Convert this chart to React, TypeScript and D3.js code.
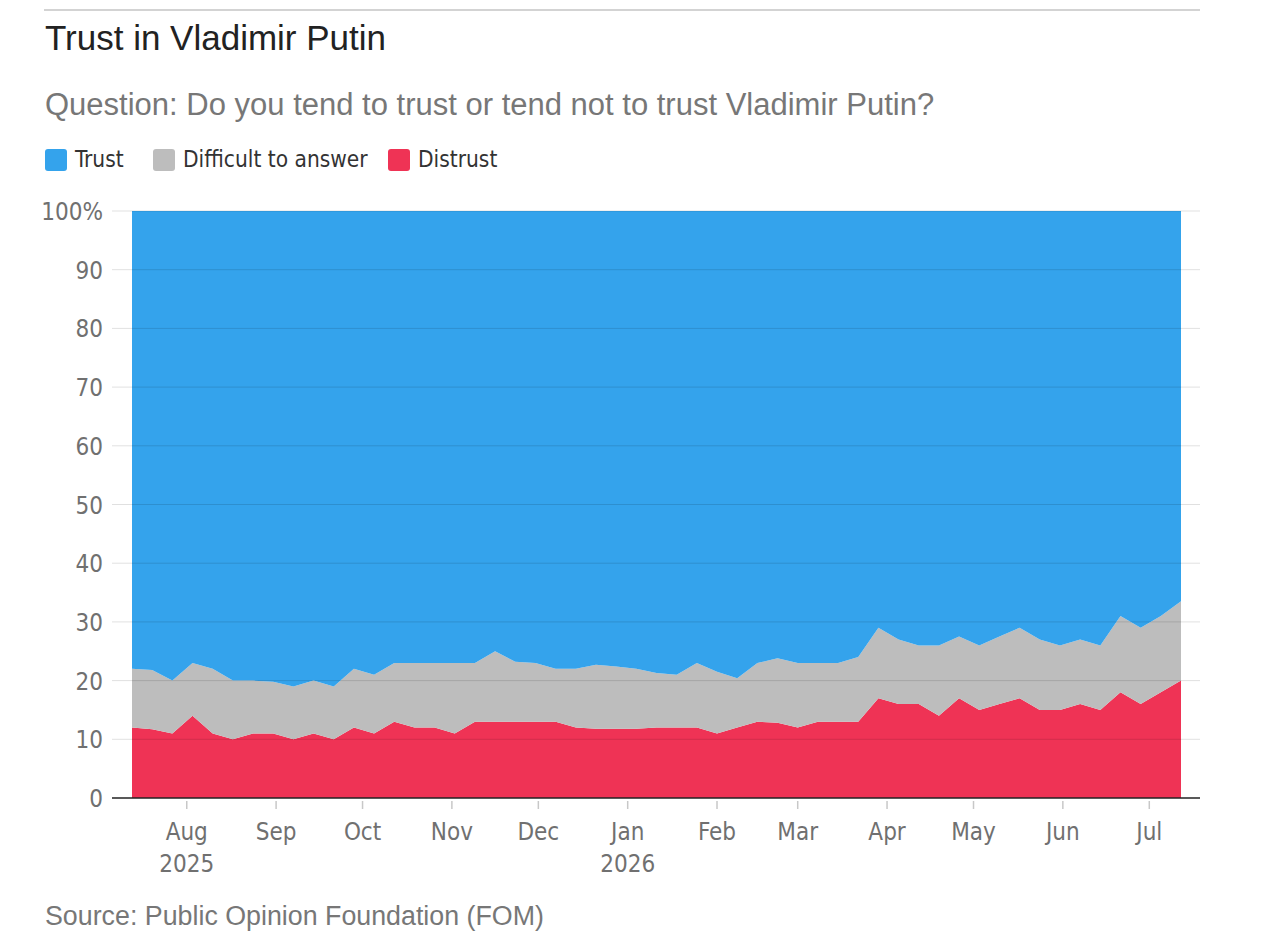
import * as d3 from 'd3'

// weekly FOM polls, share of respondents in %
const dates = [
  '2025-07-13', '2025-07-20', '2025-07-27', '2025-08-03', '2025-08-10', '2025-08-17', '2025-08-24',
  '2025-08-31', '2025-09-07', '2025-09-14', '2025-09-21', '2025-09-28', '2025-10-05', '2025-10-12',
  '2025-10-19', '2025-10-26', '2025-11-02', '2025-11-09', '2025-11-16', '2025-11-23', '2025-11-30',
  '2025-12-07', '2025-12-14', '2025-12-21', '2025-12-28', '2026-01-04', '2026-01-11', '2026-01-18',
  '2026-01-25', '2026-02-01', '2026-02-08', '2026-02-15', '2026-02-22', '2026-03-01', '2026-03-08',
  '2026-03-15', '2026-03-22', '2026-03-29', '2026-04-05', '2026-04-12', '2026-04-19', '2026-04-26',
  '2026-05-03', '2026-05-10', '2026-05-17', '2026-05-24', '2026-05-31', '2026-06-07', '2026-06-14',
  '2026-06-21', '2026-06-28', '2026-07-05', '2026-07-12',
]

const distrust = [
  12, 11.7, 11, 14, 11, 10, 11, 11, 10, 11, 10, 12, 11, 13, 12, 12, 11, 13, 13, 13, 13, 13, 12, 11.8, 11.8, 11.8,
  12, 12, 12, 11, 12, 13, 12.8, 12, 13, 13, 13, 17, 16, 16, 14, 17, 15, 16, 17, 15, 15, 16, 15, 18, 16, 18, 20,
]

const difficult = [
  10, 10.1, 9, 9, 11, 10, 9, 8.8, 9, 9, 9, 10, 10, 10, 11, 11, 12, 10, 12, 10.2, 10, 9, 10, 10.9, 10.6, 10.2,
  9.3, 9, 11, 10.5, 8.4, 10, 11, 11, 10, 10, 11, 12, 11, 10, 12, 10.5, 11, 11.5, 12, 12, 11, 11, 11, 13, 13, 13, 13.5,
]

const trust = distrust.map((d, i) => 100 - d - difficult[i])

const seriesKeys = ['distrust', 'difficult', 'trust']
const legendKeys = ['trust', 'difficult', 'distrust']
const labels: Record<string, string> = { trust: 'Trust', difficult: 'Difficult to answer', distrust: 'Distrust' }
const colors: Record<string, string> = { trust: '#34a3ec', difficult: '#bdbdbd', distrust: '#ef3355' }

const yTicks = [0, 10, 20, 30, 40, 50, 60, 70, 80, 90, 100]
const monthTicks = [
  '2025-08-01', '2025-09-01', '2025-10-01', '2025-11-01', '2025-12-01', '2026-01-01',
  '2026-02-01', '2026-03-01', '2026-04-01', '2026-05-01', '2026-06-01', '2026-07-01',
]

const W = 1280
const H = 945
const left = 132
const right = 1181
const top = 211
const bottom = 798

const narrow = "'DejaVu Sans Condensed', 'DejaVu Sans', sans-serif"
const sans = "'Liberation Sans', Arial, Helvetica, sans-serif"

export default function App() {
  document.body.style.margin = '0'

  const parse = d3.timeParse('%Y-%m-%d')
  const rows = dates.map((d, i) => ({
    date: parse(d) as Date,
    distrust: distrust[i],
    difficult: difficult[i],
    trust: trust[i],
  }))

  const x = d3.scaleTime()
    .domain([rows[0].date, rows[rows.length - 1].date])
    .range([left, right])

  const y = d3.scaleLinear()
    .domain([0, 100])
    .range([bottom, top])

  const stacked = d3.stack<any>().keys(seriesKeys)(rows)

  const area = d3.area<any>()
    .x(d => x(d.data.date))
    .y0(d => y(d[0]))
    .y1(d => y(d[1]))

  const fmtMonth = d3.timeFormat('%b')
  const fmtYear = d3.timeFormat('%Y')

  const legendX = [45, 153, 388]

  return (
    <svg width={W} height={H} style={{ display: 'block', background: '#fff' }}>
      <line x1={44} x2={1200} y1={10} y2={10} stroke="#c4c4c4" strokeWidth={1.5} />
      <text x={45} y={50} fontFamily={sans} fontSize={35} fill="#222">Trust in Vladimir Putin</text>
      <text x={45} y={115} fontFamily={sans} fontSize={31} fill="#777">
        Question: Do you tend to trust or tend not to trust Vladimir Putin?
      </text>

      {legendKeys.map((k, i) => (
        <g key={k} transform={`translate(${legendX[i]},149)`}>
          <rect width={22} height={22} rx={3} fill={colors[k]} />
          <text x={30} y={18} fontFamily={narrow} fontSize={22.5} fill="#333">{labels[k]}</text>
        </g>
      ))}

      {stacked.map(s => (
        <path key={s.key} d={area(s) as string} fill={colors[s.key]} />
      ))}

      {yTicks.filter(t => t > 0).map(t => (
        <line key={t} x1={112} x2={1200} y1={y(t)} y2={y(t)} stroke="#000" strokeOpacity={0.12} strokeWidth={1} />
      ))}

      {yTicks.map(t => (
        <text key={t} x={103} y={y(t) + 9} textAnchor="end" fontFamily={narrow} fontSize={24} fill="#707070">
          {t === 100 ? '100%' : t}
        </text>
      ))}

      <line x1={112} x2={1200} y1={bottom} y2={bottom} stroke="#222" strokeWidth={1.6} />

      {monthTicks.map(m => {
        const d = parse(m) as Date
        const tx = x(d)
        const showYear = d.getMonth() === 7 || d.getMonth() === 0
        return (
          <g key={m}>
            <line x1={tx} x2={tx} y1={801} y2={809} stroke="#c8c8c8" strokeWidth={1.5} />
            <text x={tx} y={840} textAnchor="middle" fontFamily={narrow} fontSize={24} fill="#707070">
              {fmtMonth(d)}
            </text>
            {showYear && (
              <text x={tx} y={872} textAnchor="middle" fontFamily={narrow} fontSize={24} fill="#707070">
                {fmtYear(d)}
              </text>
            )}
          </g>
        )
      })}

      <text x={45} y={925} fontFamily={sans} fontSize={26.8} fill="#777">
        Source: Public Opinion Foundation (FOM)
      </text>
    </svg>
  )
}
